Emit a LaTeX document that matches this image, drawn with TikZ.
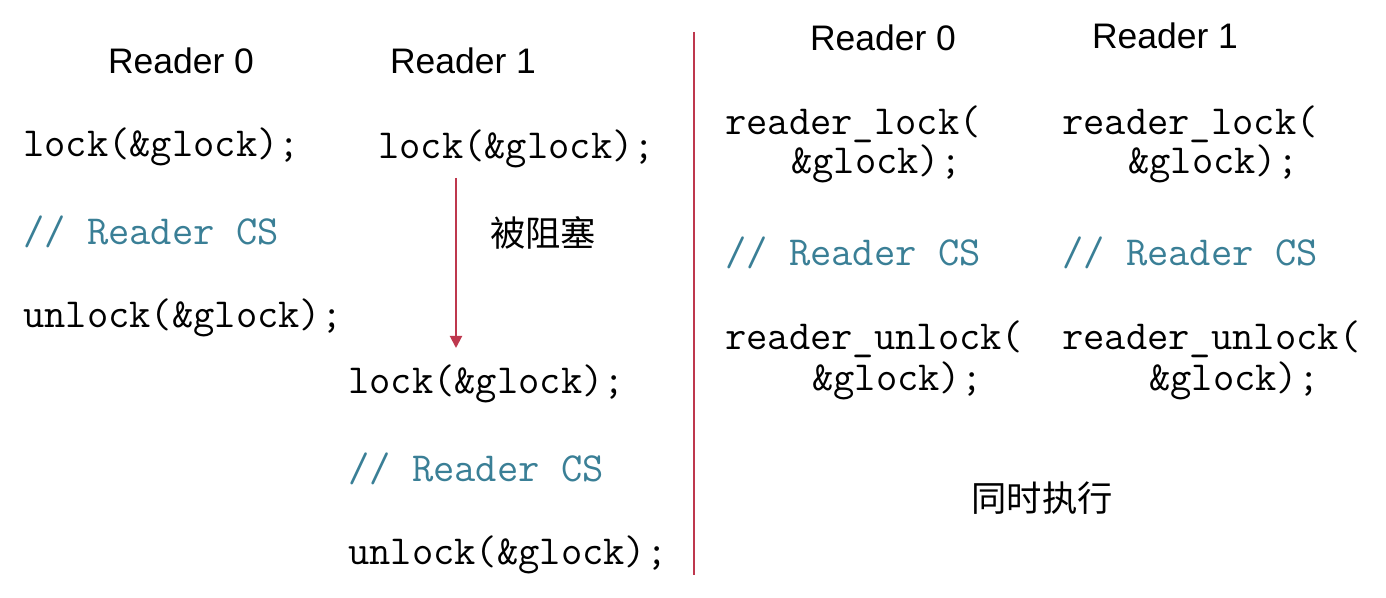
\documentclass[tikz,border=0pt]{standalone}
\usepackage{fontspec}
\setmainfont{Liberation Sans}
\newfontfamily\cjk{Noto Sans CJK SC}
\usetikzlibrary{arrows.meta}
\definecolor{teal1}{RGB}{58,127,150}
\definecolor{redline}{RGB}{190,56,78}
\tikzset{
  code/.style={anchor=west, inner sep=0pt, font=\fontsize{31}{35}\selectfont\ttfamily},
  cmt/.style={code, text=teal1},
  head/.style={anchor=center, inner sep=0pt, font=\fontsize{26.6}{30}\selectfont},
  zh/.style={anchor=center, inner sep=0pt, font=\fontsize{26.5}{30}\selectfont\cjk},
}
\begin{document}
\begin{tikzpicture}[x=0.75pt,y=-0.75pt]
\useasboundingbox (0,0) rectangle (1386,598);
% headings
\node[head] (h0) at (181,61) {Reader 0};
\node[head] (h1) at (463,61) {Reader 1};
\node[head] (h2) at (883,38) {Reader 0};
\node[head] (h3) at (1165,36) {Reader 1};
% left reader 0
\node[code] (a1) at (23,147) {lock(\&glock);};
\node[cmt]  (a2) at (23,232) {// Reader CS};
\node[code] (a3) at (23,318) {unlock(\&glock);};
% left reader 1
\node[code] (b1) at (378,149) {lock(\&glock);};
\node[code] (b2) at (348,384) {lock(\&glock);};
\node[cmt]  (b3) at (348,469) {// Reader CS};
\node[code] (b4) at (348,555) {unlock(\&glock);};
\node[zh] (blk) at (543,233) {被阻塞};
\coordinate (arrS) at (456,178);
\coordinate (arrE) at (456,348);
\draw[redline, line width=1.5pt, -{Triangle[width=9pt,length=9pt]}] (arrS) -- (arrE);
% divider
\coordinate (divT) at (694,32);
\coordinate (divB) at (694,575);
\draw[redline, line width=1.6pt] (divT) -- (divB);
% right reader 0
\node[code] (c1) at (725,124) {reader\_lock(};
\node[code] (c2) at (791,164) {\&glock);};
\node[cmt]  (c3) at (725,253) {// Reader CS};
\node[code] (c4) at (725,339) {reader\_unlock(};
\node[code] (c5) at (812,381) {\&glock);};
% right reader 1
\node[code] (d1) at (1062,124) {reader\_lock(};
\node[code] (d2) at (1128,164) {\&glock);};
\node[cmt]  (d3) at (1062,253) {// Reader CS};
\node[code] (d4) at (1062,339) {reader\_unlock(};
\node[code] (d5) at (1149,381) {\&glock);};
\node[zh] (sim) at (1042,498) {同时执行};
\end{tikzpicture}
\end{document}
